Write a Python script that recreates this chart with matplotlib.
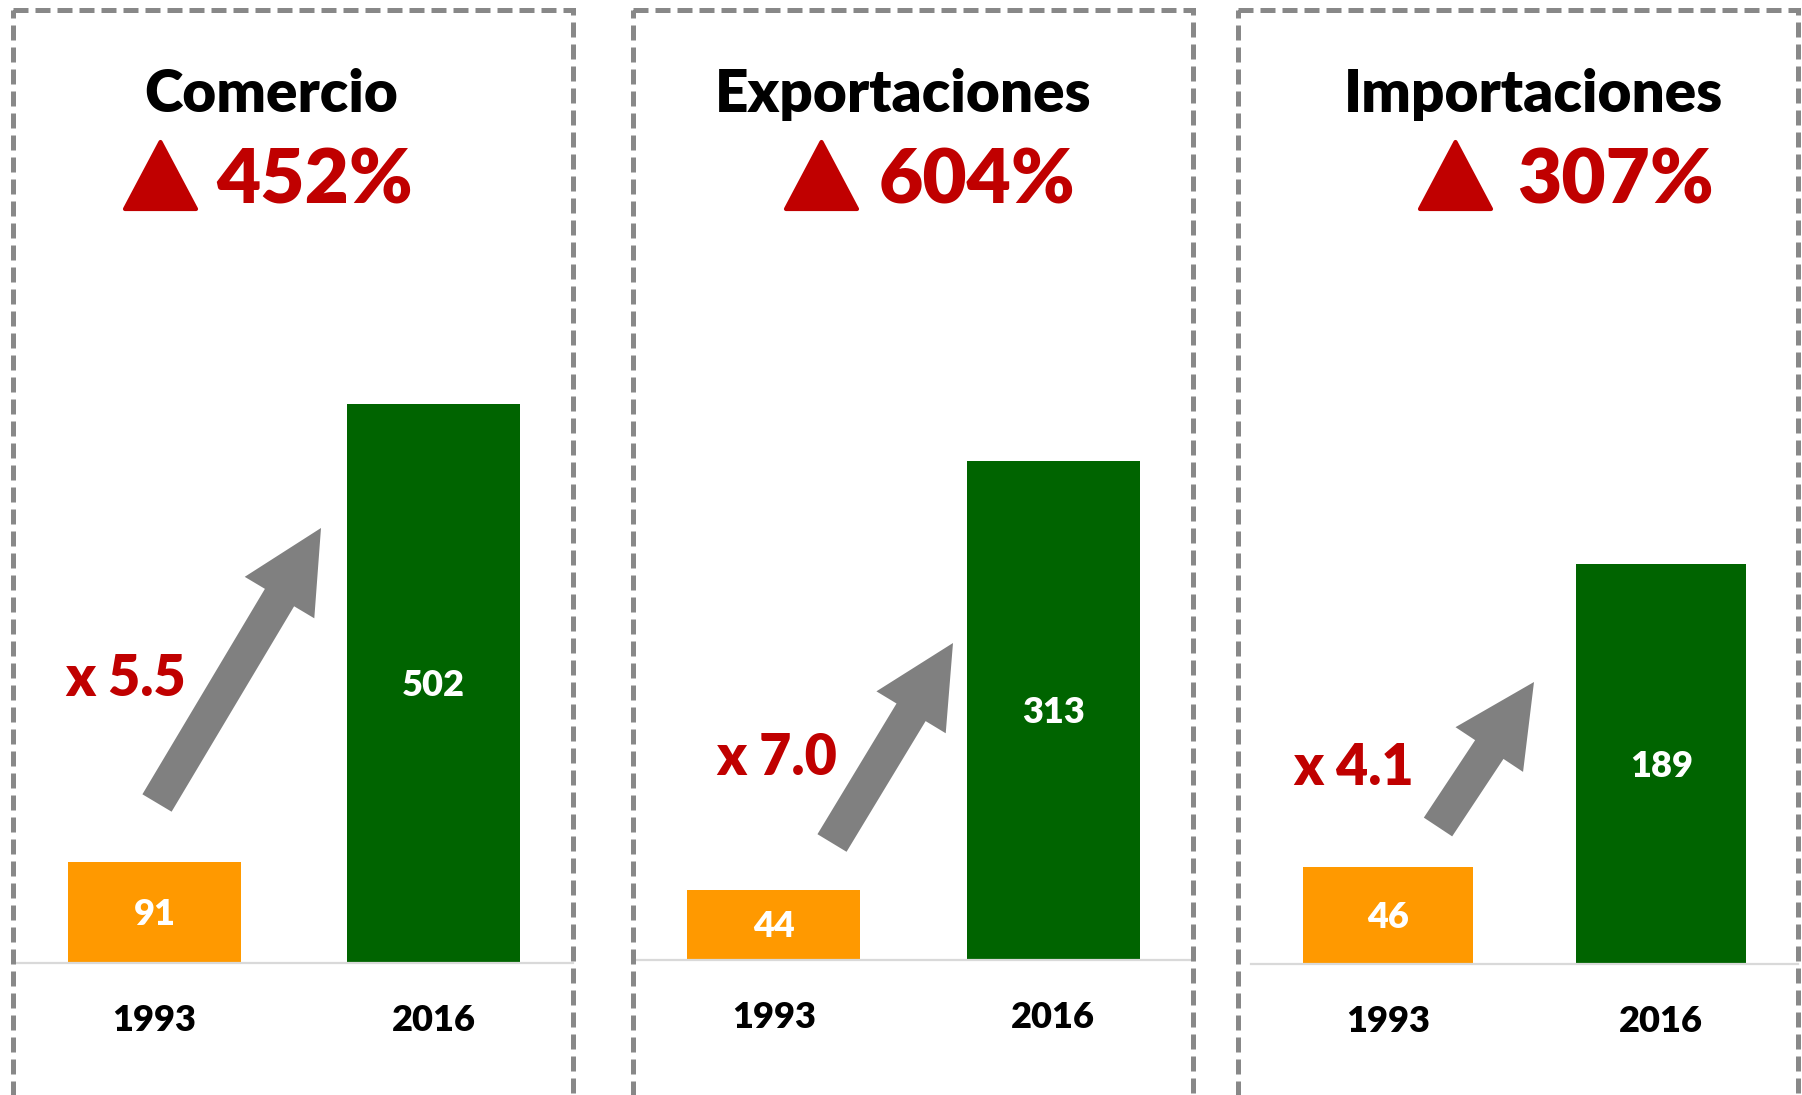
import matplotlib
matplotlib.use("Agg")
import matplotlib.pyplot as plt
from matplotlib.patches import Rectangle, Polygon, FancyArrow

plt.rcParams['font.family'] = ['Lato', 'DejaVu Sans']

# data
panels = ["Comercio", "Exportaciones", "Importaciones"]
years = ["1993", "2016"]
val_1993 = [91, 44, 46]
val_2016 = [502, 313, 189]
growth = ["452%", "604%", "307%"]
ratio = ["x 5.5", "x 7.0", "x 4.1"]

RED = "#C00000"
ORANGE = "#FF9900"
GREEN = "#006400"
GREY = "#808080"
BOX = "#888888"
WEIGHT = 'heavy'

W, H = 1802, 1095
fig = plt.figure(figsize=(W / 100, H / 100), dpi=100)

# layout in pixels: axes left, axes right, baseline, y-axis max
ax_px = [(15, 573, 963, 685), (634, 1193, 960, 477), (1251, 1798, 964, 361)]
AX_TOP = 200

for i, (l, r, base, ymax) in enumerate(ax_px):
    ax = fig.add_axes([l / W, (H - base) / H, (r - l) / W, (base - AX_TOP) / H])
    vals = [val_1993[i], val_2016[i]]
    ax.bar(range(2), vals, width=0.62, color=[ORANGE, GREEN])
    ax.set_xlim(-0.5, 1.5)
    ax.set_ylim(0, ymax)
    for s in ['top', 'right', 'left']:
        ax.spines[s].set_visible(False)
    ax.spines['bottom'].set_color('#D9D9D9')
    ax.spines['bottom'].set_linewidth(1.6)
    ax.set_yticks([])
    ax.set_xticks(range(2), years)
    ax.tick_params(axis='x', length=0, pad=49, labelsize=26)
    for t in ax.get_xticklabels():
        t.set_fontweight(WEIGHT)
        t.set_va('baseline')
    for x, v in enumerate(vals):
        ax.annotate(str(v), (x, v / 2), xytext=(0, -9), textcoords='offset points',
                    ha='center', va='baseline', color='white',
                    fontsize=26, fontweight=WEIGHT)
    ax.patch.set_visible(False)

# overlay in pixel units for boxes, headers and arrows
ov = fig.add_axes([0, 0, 1, 1], zorder=5)
ov.set_xlim(0, W)
ov.set_ylim(H, 0)
ov.axis('off')

box_x = [(13, 573), (633, 1193), (1238, 1798)]
title_x = [271, 903, 1534]
tri_x = [123, 784, 1418]
pct_x = [216, 879, 1517]
ratio_pos = [(65, 696), (716, 775), (1293, 785)]
arrows = [(157, 803, 321, 528), (832, 843, 953, 643), (1438, 827, 1534, 682)]

for i in range(3):
    x0, x1 = box_x[i]
    ov.add_patch(Rectangle((x0, 10), x1 - x0, 1200, fill=False, edgecolor=BOX,
                           linewidth=3.6, linestyle=(0, (3.0, 1.4))))
    ov.text(title_x[i], 112, panels[i], ha='center', va='baseline',
            fontsize=42, fontweight=WEIGHT, color='black')
    tx = tri_x[i]
    ov.add_patch(Polygon([(tx + 2, 209), (tx + 73, 209), (tx + 37.5, 142)],
                         closed=True, facecolor=RED, edgecolor=RED,
                         linewidth=3, joinstyle='round'))
    ov.text(pct_x[i], 204, growth[i], ha='left', va='baseline',
            fontsize=55, fontweight=WEIGHT, color=RED)
    rx, ry = ratio_pos[i]
    ov.text(rx, ry, ratio[i], ha='left', va='baseline',
            fontsize=40, fontweight=WEIGHT, color=RED)
    ax0, ay0, ax1, ay1 = arrows[i]
    ov.add_patch(FancyArrow(ax0, ay0, ax1 - ax0, ay1 - ay0, width=34,
                            head_width=81, head_length=81,
                            length_includes_head=True, color=GREY, linewidth=0))

fig.savefig("out.png", dpi=100)
